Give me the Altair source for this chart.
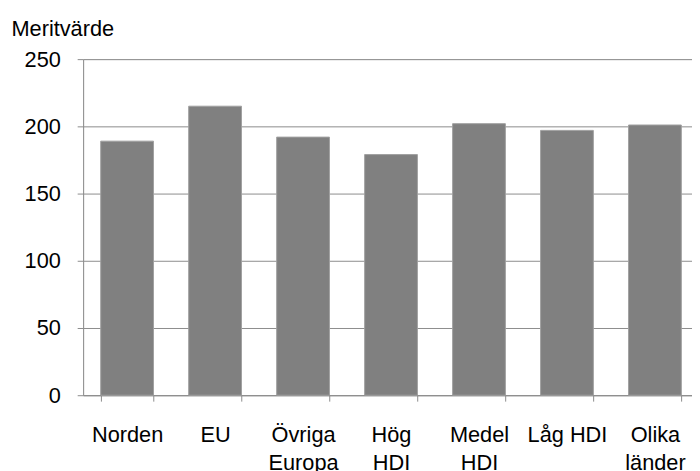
import altair as alt
import pandas as pd

categories = ["Norden", "EU", "Övriga Europa", "Hög HDI", "Medel HDI", "Låg HDI", "Olika länder"]
values = [189, 215, 192, 179, 202, 197, 201]
y_ticks = [0, 50, 100, 150, 200, 250]

df = pd.DataFrame({"kategori": categories, "varde": values})

FONT = "Liberation Sans"
GRID = "#8c8c8c"

chart = alt.Chart(df).mark_bar(
    color="#808080", stroke="#a0a0a0", strokeWidth=1
).encode(
    x=alt.X(
        "kategori:N",
        sort=categories,
        scale=alt.Scale(range=[0, 623], paddingInner=0.4, paddingOuter=0.2),
        axis=alt.Axis(
            title=None,
            labelAngle=0,
            labelFont=FONT,
            labelFontSize=22,
            labelColor="#000000",
            labelLineHeight=28,
            labelPadding=24,
            labelExpr="!isString(datum.value) ? '' : (datum.value == 'Låg HDI' ? datum.value : split(datum.value, ' '))",
            tickBand="extent",
            tickSize=6,
            tickColor=GRID,
            domainColor=GRID,
            grid=False,
            labelOverlap=False,
        ),
    ),
    y=alt.Y(
        "varde:Q",
        scale=alt.Scale(domain=[0, 250], nice=False),
        axis=alt.Axis(
            values=y_ticks,
            title="Meritvärde",
            titleAngle=0,
            titleAlign="left",
            titleBaseline="alphabetic",
            titleX=-73,
            titleY=-24,
            titleFont=FONT,
            titleFontSize=22,
            titleFontWeight="normal",
            titleColor="#000000",
            labelFont=FONT,
            labelFontSize=22,
            labelColor="#000000",
            labelPadding=17,
            tickSize=6,
            tickColor=GRID,
            domainColor=GRID,
            gridColor=GRID,
            grid=True,
        ),
    ),
).properties(
    width=616,
    height=340,
    autosize=alt.AutoSizeParams(type="none"),
    padding={"left": 76, "top": 49, "right": 0, "bottom": 80},
).configure_view(stroke=None).configure(background="#ffffff")

chart.save("out.html", embed_options={"renderer": "svg", "actions": False})
